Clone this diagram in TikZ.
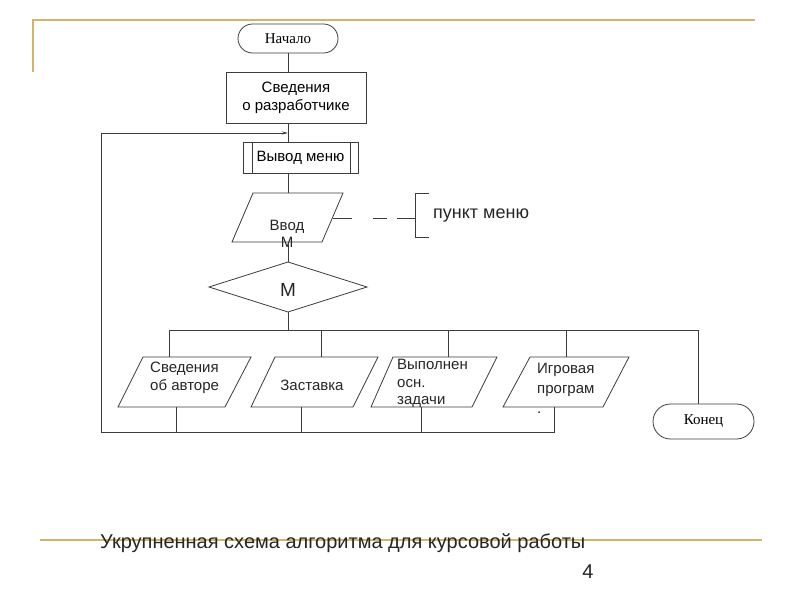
\documentclass[tikz,border=0pt]{standalone}
\usepackage{fontspec}
\setmainfont{Liberation Sans}
\newfontfamily\seriff{Liberation Serif}
\usetikzlibrary{shapes.misc,arrows.meta}
\definecolor{gold}{RGB}{212,180,104}
\definecolor{ink}{RGB}{60,60,60}
\tikzset{
  ln/.style={draw=ink, line width=0.8pt},
  goldln/.style={draw=gold, line width=2.6pt},
  term/.style={ln, rounded rectangle, inner sep=0pt, font=\seriff\fontsize{15}{17}\selectfont},
  procbox/.style={ln, rectangle, inner sep=0pt, align=center, font=\fontsize{15}{18}\selectfont},
  txt/.style={inner sep=0pt, font=\fontsize{15}{18}\selectfont, text=black!85},
}
\begin{document}
\begin{tikzpicture}[x=1pt,y=-1pt]
\useasboundingbox (0,0) rectangle (800,600);
\fill[white] (0,0) rectangle (800,600);

% decorative gold lines
\draw[goldln] (33,72) -- (33,20) -- (755,20);
\draw[goldln] (40,540) -- (762,540);

% start
\node[term, minimum width=100pt, minimum height=29pt] (start) at (288,38.5) {Начало};
% developer info
\node[procbox, minimum width=140pt, minimum height=51pt] (dev) at (296,98) {Сведения\\о разработчике};
% menu output (predefined process)
\node[procbox, minimum width=115pt, minimum height=31pt] (menu) at (300.5,157.5) {Вывод меню};
\draw[ln] (252,142) -- (252,174);
\draw[ln] (350,142) -- (350,174);

% input M (parallelogram)
\draw[ln] (253,193) -- (343,193) -- (322,242) -- (232,242) -- cycle;
\coordinate (inT) at (288,193);
\coordinate (inB) at (288,242);
\coordinate (inR) at (333,218);
\node[txt, align=center, font=\fontsize{15}{17}\selectfont] (inp) at (287,234) {Ввод\\М};

% comment
\coordinate (brk) at (415,218);
\draw[ln, dash pattern=on 19pt off 21pt on 14pt off 10pt on 20pt] (inR) -- (brk);
\draw[ln] (429,193) -- (415,193) -- (415,237) -- (429,237);
\node[txt, anchor=west, font=\fontsize{18}{20}\selectfont] (note) at (433,216) {пункт меню};

% decision
\draw[ln] (209,287) -- (288,262) -- (367,287) -- (288,312) -- cycle;
\coordinate (dT) at (288,262);
\coordinate (dB) at (288,312);
\node[txt, font=\fontsize{19}{21}\selectfont] (dec) at (288,290) {M};

% flow lines top
\draw[ln] (start.south) -- (start.south |- dev.north);
\draw[ln] (288,123.5) -- (288,142);
\draw[ln] (288,173) -- (inT);
\draw[ln] (inB) -- (dT);

% option boxes (parallelograms)
\draw[ln] (143,357) -- (251,357) -- (225,407) -- (118,407) -- cycle;
\draw[ln] (275,357) -- (378,357) -- (353,407) -- (251,407) -- cycle;
\draw[ln] (393,357) -- (497,357) -- (472,407) -- (371,407) -- cycle;
\draw[ln] (530,357) -- (629,357) -- (603,407) -- (503,407) -- cycle;

\node[txt, align=left, anchor=north west] (o1) at (150,361.5) {Сведения\\об авторе};
\node[txt] (o2) at (312,385) {Заставка};
\node[txt, align=left, anchor=north west, font=\fontsize{15}{17.5}\selectfont] (o3) at (397,359) {Выполнен\\осн.\\задачи};
\node[txt, align=left, anchor=north west, font=\fontsize{15}{20}\selectfont] (o4) at (537,362.5) {Игровая\\програм\\.};

% end
\node[term, minimum width=101pt, minimum height=35pt] (stop) at (703.5,421.5) {Конец};

% bus from decision
\coordinate (bus) at (288,330);
\draw[ln] (dB) -- (bus);
\draw[ln] (169,357) -- (169,330) -- (698,330) -- (stop.north -| 698,0);
\draw[ln] (321,330) -- (321,357);
\draw[ln] (448,330) -- (448,357);
\draw[ln] (566,330) -- (566,357);

% return lines
\coordinate (ret) at (288,133);
\draw[ln] (176,407) -- (176,432);
\draw[ln] (301,407) -- (301,432);
\draw[ln] (421,407) -- (421,432);
\draw[ln, -{Stealth[length=6pt,width=3pt]}] (554,407) -- (554,432) -- (101,432) -- (101,133) -- (ret);

% caption
\node[inner sep=0pt, anchor=west, font=\fontsize{20}{22}\selectfont, text=black!85] (cap) at (100,543) {Укрупненная схема алгоритма для курсовой работы};
\node[inner sep=0pt, font=\fontsize{20}{22}\selectfont, text=black!85] (pg) at (588,572) {4};
\end{tikzpicture}
\end{document}
